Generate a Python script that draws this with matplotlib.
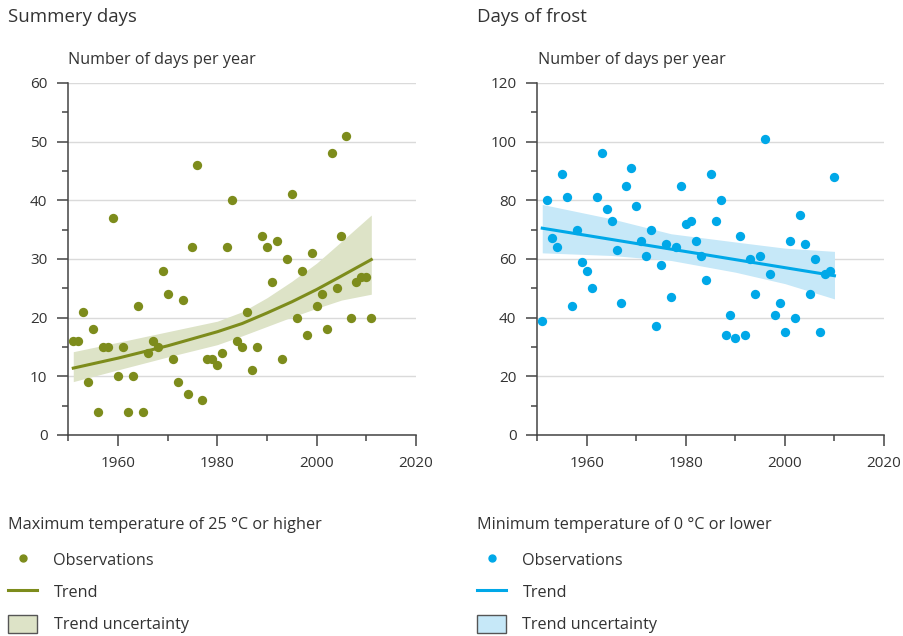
import numpy as np
import matplotlib
matplotlib.use("Agg")
from matplotlib import pyplot as plt
from matplotlib.lines import Line2D
from matplotlib.patches import Patch

plt.rcParams['font.family'] = ['Open Sans', 'DejaVu Sans']

# summery days (max temp >= 25 C)
summer_years = np.arange(1951, 2012)
summer_days = [16, 16, 21, 9, 18, 4, 15, 15, 37, 10,
               15, 4, 10, 22, 4, 14, 16, 15, 28, 24,
               13, 9, 23, 7, 32, 46, 6, 13, 13, 12,
               14, 32, 40, 16, 15, 21, 11, 15, 34, 32,
               26, 33, 13, 30, 41, 20, 28, 17, 31, 22,
               24, 18, 48, 25, 34, 51, 20, 26, 27, 27, 20]
summer_trend_years = [1951, 1960, 1970, 1980, 1985, 1990, 1995, 2000, 2005, 2011]
summer_trend = [11.4, 13.1, 15.2, 17.6, 19.0, 20.8, 22.7, 24.8, 27.1, 29.9]
summer_upper = [14.2, 15.8, 17.6, 19.4, 21.0, 23.4, 26.2, 29.3, 33.0, 37.5]
summer_lower = [9.1, 11.1, 13.3, 15.4, 16.9, 18.5, 20.1, 21.6, 23.0, 24.0]

# days of frost (min temp <= 0 C)
frost_years = np.arange(1951, 2011)
frost_days = [39, 80, 67, 64, 89, 81, 44, 70, 59, 56,
              50, 81, 96, 77, 73, 63, 45, 85, 91, 78,
              66, 61, 70, 37, 58, 65, 47, 64, 85, 72,
              73, 66, 61, 53, 89, 73, 80, 34, 41, 33,
              68, 34, 60, 48, 61, 101, 55, 41, 45, 35,
              66, 40, 75, 65, 48, 60, 35, 55, 56, 88]
frost_trend_years = [1951, 2010]
frost_trend = [70.5, 54.3]
frost_band_years = [1951, 1965, 1977, 1990, 2000, 2010]
frost_upper = [78.6, 73.7, 68.6, 65.8, 63.7, 62.6]
frost_lower = [62.1, 61.2, 59.5, 55.5, 51.6, 46.4]

W, H = 904, 636
TEXT = '#333333'
OLIVE = '#7d8c1c'
OLIVE_BAND = '#dde3c7'
BLUE = '#00a8e8'
BLUE_BAND = '#c6e8f8'


def px(x0, y0, x1, y1):
    return [x0 / W, 1 - y1 / H, (x1 - x0) / W, (y1 - y0) / H]


def style_axis(ax, ymax):
    ax.set_xlim(1950, 2020)
    ax.set_ylim(0, ymax)
    ax.set_xticks([1960, 1980, 2000, 2020])
    ax.set_xticks([1950, 1970, 1990, 2010], minor=True)
    step = ymax / 6
    ax.set_yticks(np.arange(0, ymax + 1, step))
    ax.set_yticks(np.arange(step / 2, ymax, step), minor=True)
    ax.yaxis.set_major_formatter(lambda v, p: f'{v:.0f}')
    for s in ['top', 'right']:
        ax.spines[s].set_visible(False)
    for s in ['left', 'bottom']:
        ax.spines[s].set_color('#444444')
        ax.spines[s].set_linewidth(1.1)
    ax.tick_params(which='major', length=8, width=1.1, color='#444444',
                   labelsize=11, labelcolor=TEXT, pad=7)
    ax.tick_params(which='minor', length=4, width=1.1, color='#444444')
    ax.grid(axis='y', which='major', color='#dadada', linewidth=1)
    ax.set_axisbelow(True)


def add_legend(ax, x, title, color, band):
    handles = [Line2D([], [], linestyle='none', marker='o', markersize=5,
                      color=color),
               Line2D([], [], color=color, linewidth=2.2),
               Patch(facecolor=band, edgecolor='#555555', linewidth=1)]
    leg = ax.legend(handles, ['Observations', 'Trend', 'Trend uncertainty'],
                    title=title, loc='upper left',
                    bbox_to_anchor=(x / W, 1 - 517 / H),
                    bbox_transform=ax.figure.transFigure,
                    frameon=False, fontsize=11.7, title_fontsize=11.7,
                    alignment='left', handlelength=1.8, handleheight=1.3,
                    handletextpad=1.0, labelspacing=0.84, borderpad=0,
                    borderaxespad=0)
    for t in leg.get_texts():
        t.set_color(TEXT)
    leg.get_title().set_color(TEXT)
    leg._legend_box.sep = 13


fig = plt.figure(figsize=(W / 100, H / 100), dpi=100)

ax1 = fig.add_axes(px(68.3, 83, 416, 435))
style_axis(ax1, 60)
ax1.fill_between(summer_trend_years, summer_lower, summer_upper,
                 color=OLIVE_BAND, linewidth=0, zorder=1)
ax1.plot(summer_trend_years, summer_trend, color=OLIVE, linewidth=2.2, zorder=2)
ax1.scatter(summer_years, summer_days, s=45, color=OLIVE, linewidths=0, zorder=3)
add_legend(ax1, 8, 'Maximum temperature of 25 °C or higher', OLIVE, OLIVE_BAND)

ax2 = fig.add_axes(px(537.3, 83, 884, 435))
style_axis(ax2, 120)
ax2.fill_between(frost_band_years, frost_lower, frost_upper,
                 color=BLUE_BAND, linewidth=0, zorder=1)
ax2.plot(frost_trend_years, frost_trend, color=BLUE, linewidth=2.2, zorder=2)
ax2.scatter(frost_years, frost_days, s=45, color=BLUE, linewidths=0, zorder=3)
add_legend(ax2, 477, 'Minimum temperature of 0 °C or lower', BLUE, BLUE_BAND)

fig.text(8 / W, 1 - 17 / H, 'Summery days', fontsize=13.4, color=TEXT, va='center')
fig.text(477 / W, 1 - 17 / H, 'Days of frost', fontsize=13.4, color=TEXT, va='center')
fig.text(68 / W, 1 - 60 / H, 'Number of days per year', fontsize=11.6, color=TEXT, va='center')
fig.text(538 / W, 1 - 60 / H, 'Number of days per year', fontsize=11.6, color=TEXT, va='center')

fig.savefig('out.png', dpi=100)
